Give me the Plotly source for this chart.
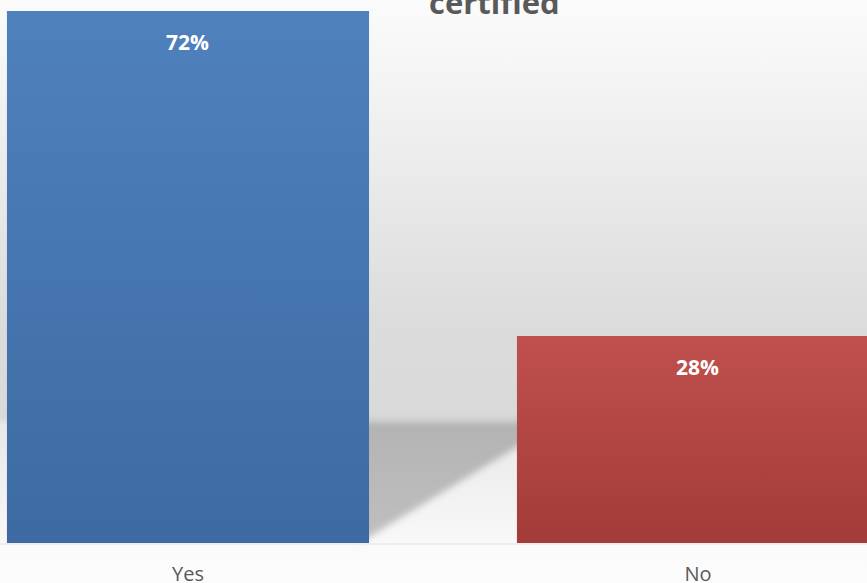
import base64
import plotly.graph_objects as go

# ---- data ----
categories = ["Yes", "No"]
values = [72, 28]
labels = ["72%", "28%"]
title_text = "certified"
bar_colors_top = ["#4F81BD", "#C0504D"]
bar_colors_bottom = ["#3D6AA2", "#A33B38"]

W, H = 867, 583
M_B = 40
PLOT_H = H - M_B
x_range = [-0.3686, 1.3314]
y_range = [0, 73.5]
bar_width = 0.71

def px_x(v):
    return (v - x_range[0]) / (x_range[1] - x_range[0]) * W

# background decoration (derived from the bar positions)
yes_right = px_x(0 + bar_width / 2)
no_left = px_x(1 - bar_width / 2)
floor_top = 421
base = PLOT_H
svg = f'''<svg xmlns="http://www.w3.org/2000/svg" width="{W}" height="{H}" viewBox="0 0 {W} {H}">
<defs>
<linearGradient id="bg" x1="0" y1="0" x2="0" y2="{H}" gradientUnits="userSpaceOnUse">
<stop offset="0" stop-color="#fbfbfb"/>
<stop offset="{50/H:.4f}" stop-color="#f7f7f7"/>
<stop offset="{320/H:.4f}" stop-color="#dcdcdc"/>
<stop offset="{(floor_top-4)/H:.4f}" stop-color="#d9d9d9"/>
<stop offset="{(floor_top+4)/H:.4f}" stop-color="#e8e8e8"/>
<stop offset="{(base-1)/H:.4f}" stop-color="#f8f8f8"/>
<stop offset="{(base)/H:.4f}" stop-color="#fafafa"/>
<stop offset="1" stop-color="#fcfcfc"/>
</linearGradient>
<linearGradient id="sh" x1="0" y1="{floor_top}" x2="0" y2="{base}" gradientUnits="userSpaceOnUse">
<stop offset="0" stop-color="#b3b3b3"/>
<stop offset="1" stop-color="#bfbfbf"/>
</linearGradient>
<filter id="blur" x="-0.2" y="-0.2" width="1.4" height="1.4"><feGaussianBlur stdDeviation="3.5"/></filter>
</defs>
<rect x="0" y="0" width="{W}" height="{H}" fill="url(#bg)"/>
<polygon points="{yes_right-10},{floor_top} {no_left+10},{floor_top} {no_left+10},{447-6} {yes_right-10},{537+6}" fill="url(#sh)" filter="url(#blur)"/>
<rect x="0" y="{base}" width="{W}" height="2" fill="#eeeeee"/>
</svg>'''
src = "data:image/svg+xml;base64," + base64.b64encode(svg.encode()).decode()

fig = go.Figure()
fig.add_trace(go.Bar(
    x=[0, 1], y=values, width=bar_width,
    marker=dict(color=bar_colors_top, line=dict(width=0)),
    hoverinfo="skip", showlegend=False,
))
# gradient overlay on each bar, computed from the data
for i, v in enumerate(values):
    x0, x1 = i - bar_width / 2, i + bar_width / 2
    fig.add_trace(go.Scatter(
        x=[x0, x1, x1, x0, x0], y=[0, 0, v, v, 0], mode="lines",
        line=dict(width=0), fill="toself",
        fillgradient=dict(type="vertical",
                          colorscale=[[0, bar_colors_bottom[i]], [1, bar_colors_top[i]]],
                          start=0, stop=v),
        hoverinfo="skip", showlegend=False,
    ))

for i, (v, t) in enumerate(zip(values, labels)):
    fig.add_annotation(x=i, y=v, text=f"<b>{t}</b>", showarrow=False,
                       yanchor="middle", yshift=-31,
                       font=dict(family="Open Sans", size=21, color="white"))

fig.add_annotation(xref="paper", yref="paper", x=(494 / W), y=1, yshift=-2,
                   yanchor="middle", text=f"<b>{title_text}</b>", showarrow=False,
                   font=dict(family="Open Sans", size=31, color="#595959"))

fig.update_layout(
    width=W, height=H,
    margin=dict(l=0, r=0, t=0, b=M_B, pad=0, autoexpand=False),
    paper_bgcolor="rgba(0,0,0,0)", plot_bgcolor="rgba(0,0,0,0)",
    images=[dict(source=src, xref="paper", yref="paper", x=0, y=1,
                 sizex=1, sizey=H / PLOT_H, xanchor="left", yanchor="top",
                 sizing="stretch", layer="below")],
    xaxis=dict(range=x_range, tickvals=[0, 1], ticktext=categories,
               showgrid=False, zeroline=False, showline=False, automargin=False,
               ticks="outside", ticklen=13, tickcolor="rgba(0,0,0,0)",
               tickfont=dict(family="Open Sans", size=20, color="#595959")),
    yaxis=dict(range=y_range, visible=False, showgrid=False, zeroline=False,
               automargin=False),
    bargap=0,
)
fig.write_html("out.html", config={"displayModeBar": False},
               post_script="document.body.style.margin='0';document.body.style.overflow='hidden';")
